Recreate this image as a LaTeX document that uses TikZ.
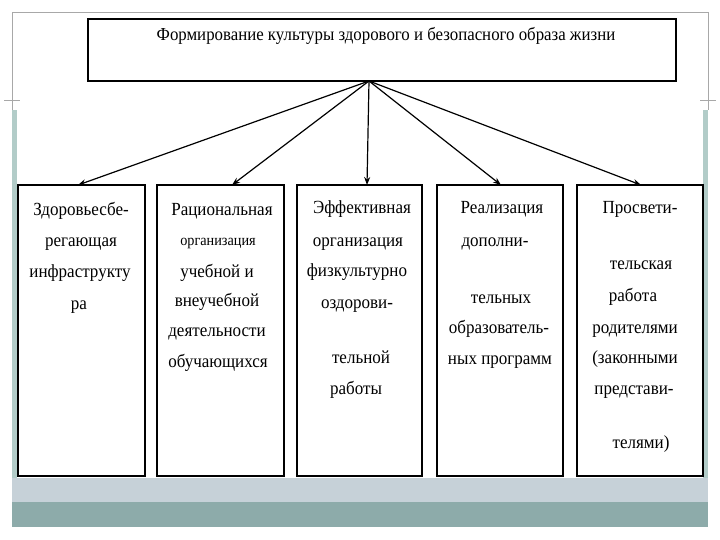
\documentclass[tikz,border=0pt]{standalone}
\usepackage{fontspec}
\setmainfont{Liberation Serif}[FakeStretch=0.92]
\usetikzlibrary{arrows.meta}
\definecolor{bandA}{HTML}{C6D1D8}
\definecolor{bandB}{HTML}{8DABAA}
\definecolor{stripe}{HTML}{B2CCC8}
\definecolor{frameg}{HTML}{A8A8A8}
\tikzset{
  boxs/.style={draw=black, line width=1.6pt, inner sep=0pt, outer sep=0pt, fill=white},
  arr/.style={line width=1.2pt, -{Stealth[length=8pt,width=6pt]}},
  ln/.style={anchor=base, inner sep=0pt, font=\fontsize{18.5}{21}\selectfont},
  lnsmall/.style={anchor=base, inner sep=0pt, font=\fontsize{15.5}{18}\selectfont},
}
\begin{document}
\begin{tikzpicture}[x=1pt,y=-1pt]
\useasboundingbox (0,0) rectangle (720,540);
% background frame and bands
\draw[frameg, line width=0.8pt] (12,110) -- (12,12) -- (708,12) -- (708,110);
\draw[frameg, line width=0.8pt] (4,100) -- (20,100);
\draw[frameg, line width=0.8pt] (700,100) -- (716,100);
\fill[stripe] (12,110) rectangle (17,478);
\fill[stripe] (703,110) rectangle (708,478);
\fill[bandA] (12,478) rectangle (708,502);
\fill[bandB] (12,502) rectangle (708,527);

% top box
\node[boxs, minimum width=588pt, minimum height=62pt] (top) at (382,50) {};
\node[anchor=base, inner sep=0pt, font=\fontsize{18.3}{21}\selectfont] (title) at (386,41) {Формирование культуры здорового и безопасного образа жизни};

% lower boxes
\node[boxs, minimum width=127pt, minimum height=291pt] (b1) at (81.5,330.5) {};
\node[boxs, minimum width=127pt, minimum height=291pt] (b2) at (220.5,330.5) {};
\node[boxs, minimum width=125pt, minimum height=291pt] (b3) at (359.5,330.5) {};
\node[boxs, minimum width=126pt, minimum height=291pt] (b4) at (500,330.5) {};
\node[boxs, minimum width=126pt, minimum height=291pt] (b5) at (640,330.5) {};

% arrows
\draw[arr] ([xshift=-13pt]top.south) -- ([xshift=-3.5pt]b1.north);
\draw[arr] ([xshift=-13pt]top.south) -- ([xshift=11.5pt]b2.north);
\draw[arr] ([xshift=-13pt]top.south) -- ([xshift=7.5pt]b3.north);
\draw[arr] ([xshift=-13pt]top.south) -- ([xshift=1pt]b4.north);
\draw[arr] ([xshift=-13pt]top.south) -- ([xshift=1pt]b5.north);

% box 1 text
\node[ln] (t1a) at (81,215) {Здоровьесбе-};
\node[ln] (t1b) at (81,246) {регающая};
\node[ln] (t1c) at (80,277) {инфраструкту};
\node[ln] (t1d) at (79,309) {ра};

% box 2 text
\node[ln] (t2a) at (222,215) {Рациональная};
\node[lnsmall] (t2b) at (218,245) {организация};
\node[ln] (t2c) at (217,277) {учебной и};
\node[ln] (t2d) at (217,306) {внеучебной};
\node[ln] (t2e) at (217,336) {деятельности};
\node[ln] (t2f) at (218,367) {обучающихся};

% box 3 text
\node[ln] (t3a) at (362,214) {Эффективная};
\node[ln] (t3b) at (358,246) {организация};
\node[ln] (t3c) at (357,276) {физкультурно};
\node[ln] (t3d) at (357,308) {оздорови-};
\node[ln] (t3e) at (361,363) {тельной};
\node[ln] (t3f) at (356,394) {работы};

% box 4 text
\node[ln] (t4a) at (502,214) {Реализация};
\node[ln] (t4b) at (495,246) {дополни-};
\node[ln] (t4c) at (501,303) {тельных};
\node[ln] (t4d) at (499,333) {образователь-};
\node[ln] (t4e) at (500,364) {ных программ};

% box 5 text
\node[ln] (t5a) at (640,214) {Просвети-};
\node[ln] (t5b) at (641,269) {тельская};
\node[ln] (t5c) at (633,301) {работа};
\node[ln] (t5d) at (635,333) {родителями};
\node[ln] (t5e) at (635,363) {(законными};
\node[ln] (t5f) at (634,394) {представи-};
\node[ln] (t5g) at (641,448) {телями)};
\end{tikzpicture}
\end{document}
